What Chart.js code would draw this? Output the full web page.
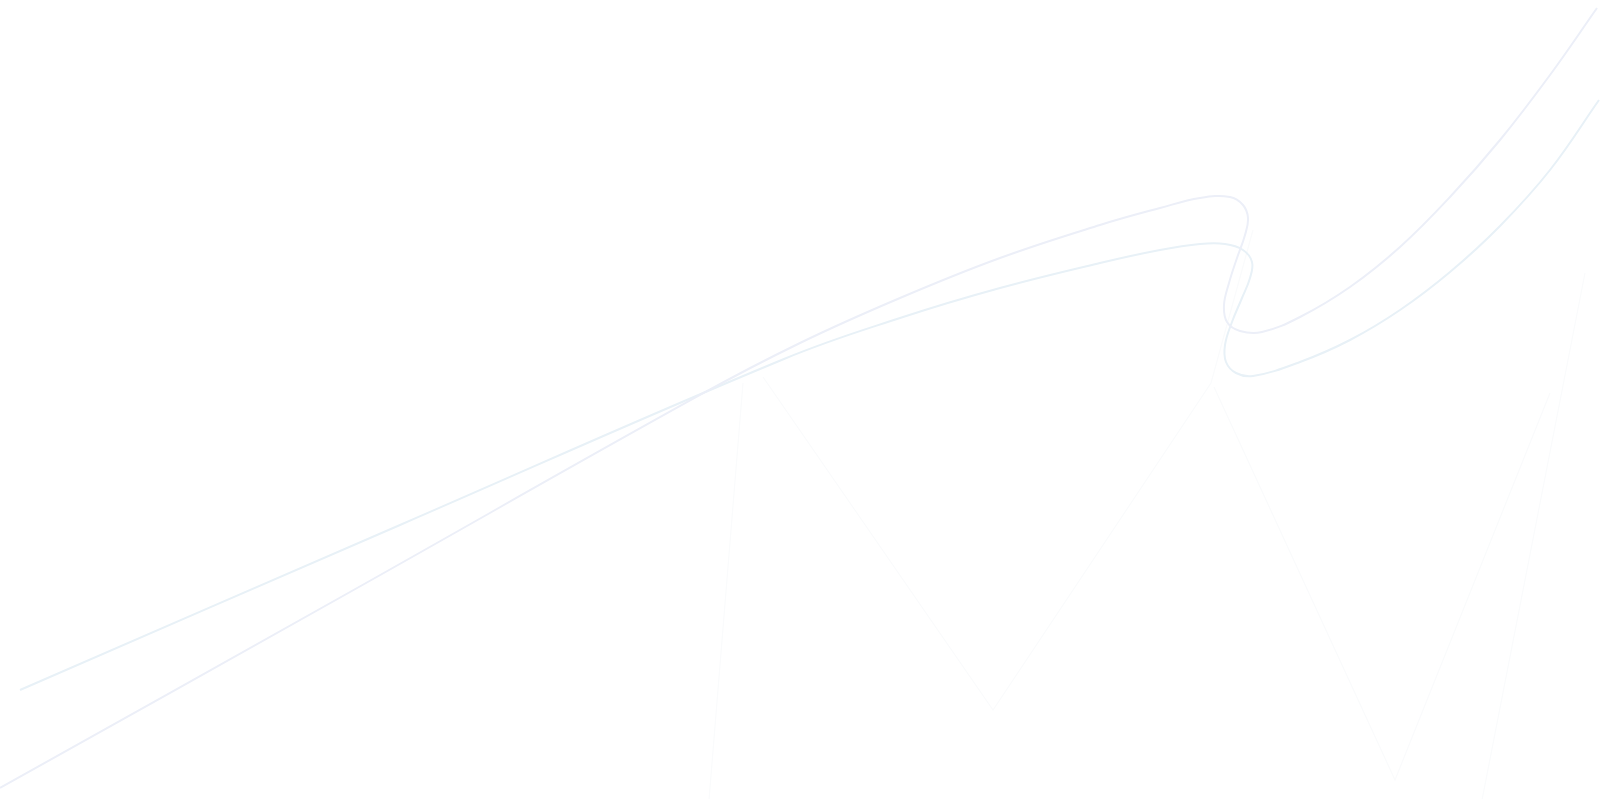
<!DOCTYPE html>
<html><head><meta charset="utf-8">
<script src="https://cdn.jsdelivr.net/npm/chart.js@4"></script>
<style>html,body{margin:0;padding:0;background:#fff;overflow:hidden}#w{width:1600px;height:799px}</style>
</head><body><div id="w"><canvas id="c"></canvas></div>
<script>
const upperX=[0,350,700,800,900,1000,1100,1160,1200,1230,1243,1248,1245,1237,1229,1224,1227,1240,1262,1300,1350,1400,1450,1500,1550,1597];
const upperY=[788,592,395,343,298,258,225,208,198,197,205,218,235,258,283,305,322,331,332,317,287,247,197,140,75,8];
const lowerX=[20,400,784,900,1000,1100,1160,1200,1225,1243,1252,1250,1242,1232,1225,1226,1236,1253,1300,1350,1400,1450,1500,1550,1599];
const lowerY=[690,525,359,318,288,263,250,244,244,250,262,278,298,322,345,362,373,376,362,340,310,272,226,170,100];
const faintLeftX=[743,709]; const faintLeftY=[383,800];
const faintW1X=[763,993,1211,1253]; const faintW1Y=[377,710,383,230];
const faintW2X=[1214,1395,1550]; const faintW2Y=[387,780,393];
const faintRightX=[1585,1482]; const faintRightY=[273,800];
const pts=(xs,ys)=>xs.map((x,i)=>({x,y:ys[i]}));
const ds=(xs,ys,color,w,t)=>({data:pts(xs,ys),showLine:true,borderColor:color,borderWidth:w,pointRadius:0,tension:t,fill:false});
new Chart(document.getElementById('c'),{type:'scatter',
data:{datasets:[
ds(upperX,upperY,'#eceff8',2,0.4),
ds(lowerX,lowerY,'#e8f1f7',2,0.4),
ds(faintLeftX,faintLeftY,'#fafbfc',1.2,0),
ds(faintW1X,faintW1Y,'#fafbfc',1.2,0),
ds(faintW2X,faintW2Y,'#fafbfc',1.2,0),
ds(faintRightX,faintRightY,'#fafbfc',1.2,0)
]},
options:{responsive:true,maintainAspectRatio:false,animation:false,layout:{padding:0},
plugins:{legend:{display:false},tooltip:{enabled:false}},
scales:{x:{type:'linear',min:0,max:1600,display:false},y:{type:'linear',min:0,max:799,reverse:true,display:false}}}});
</script></body></html>
